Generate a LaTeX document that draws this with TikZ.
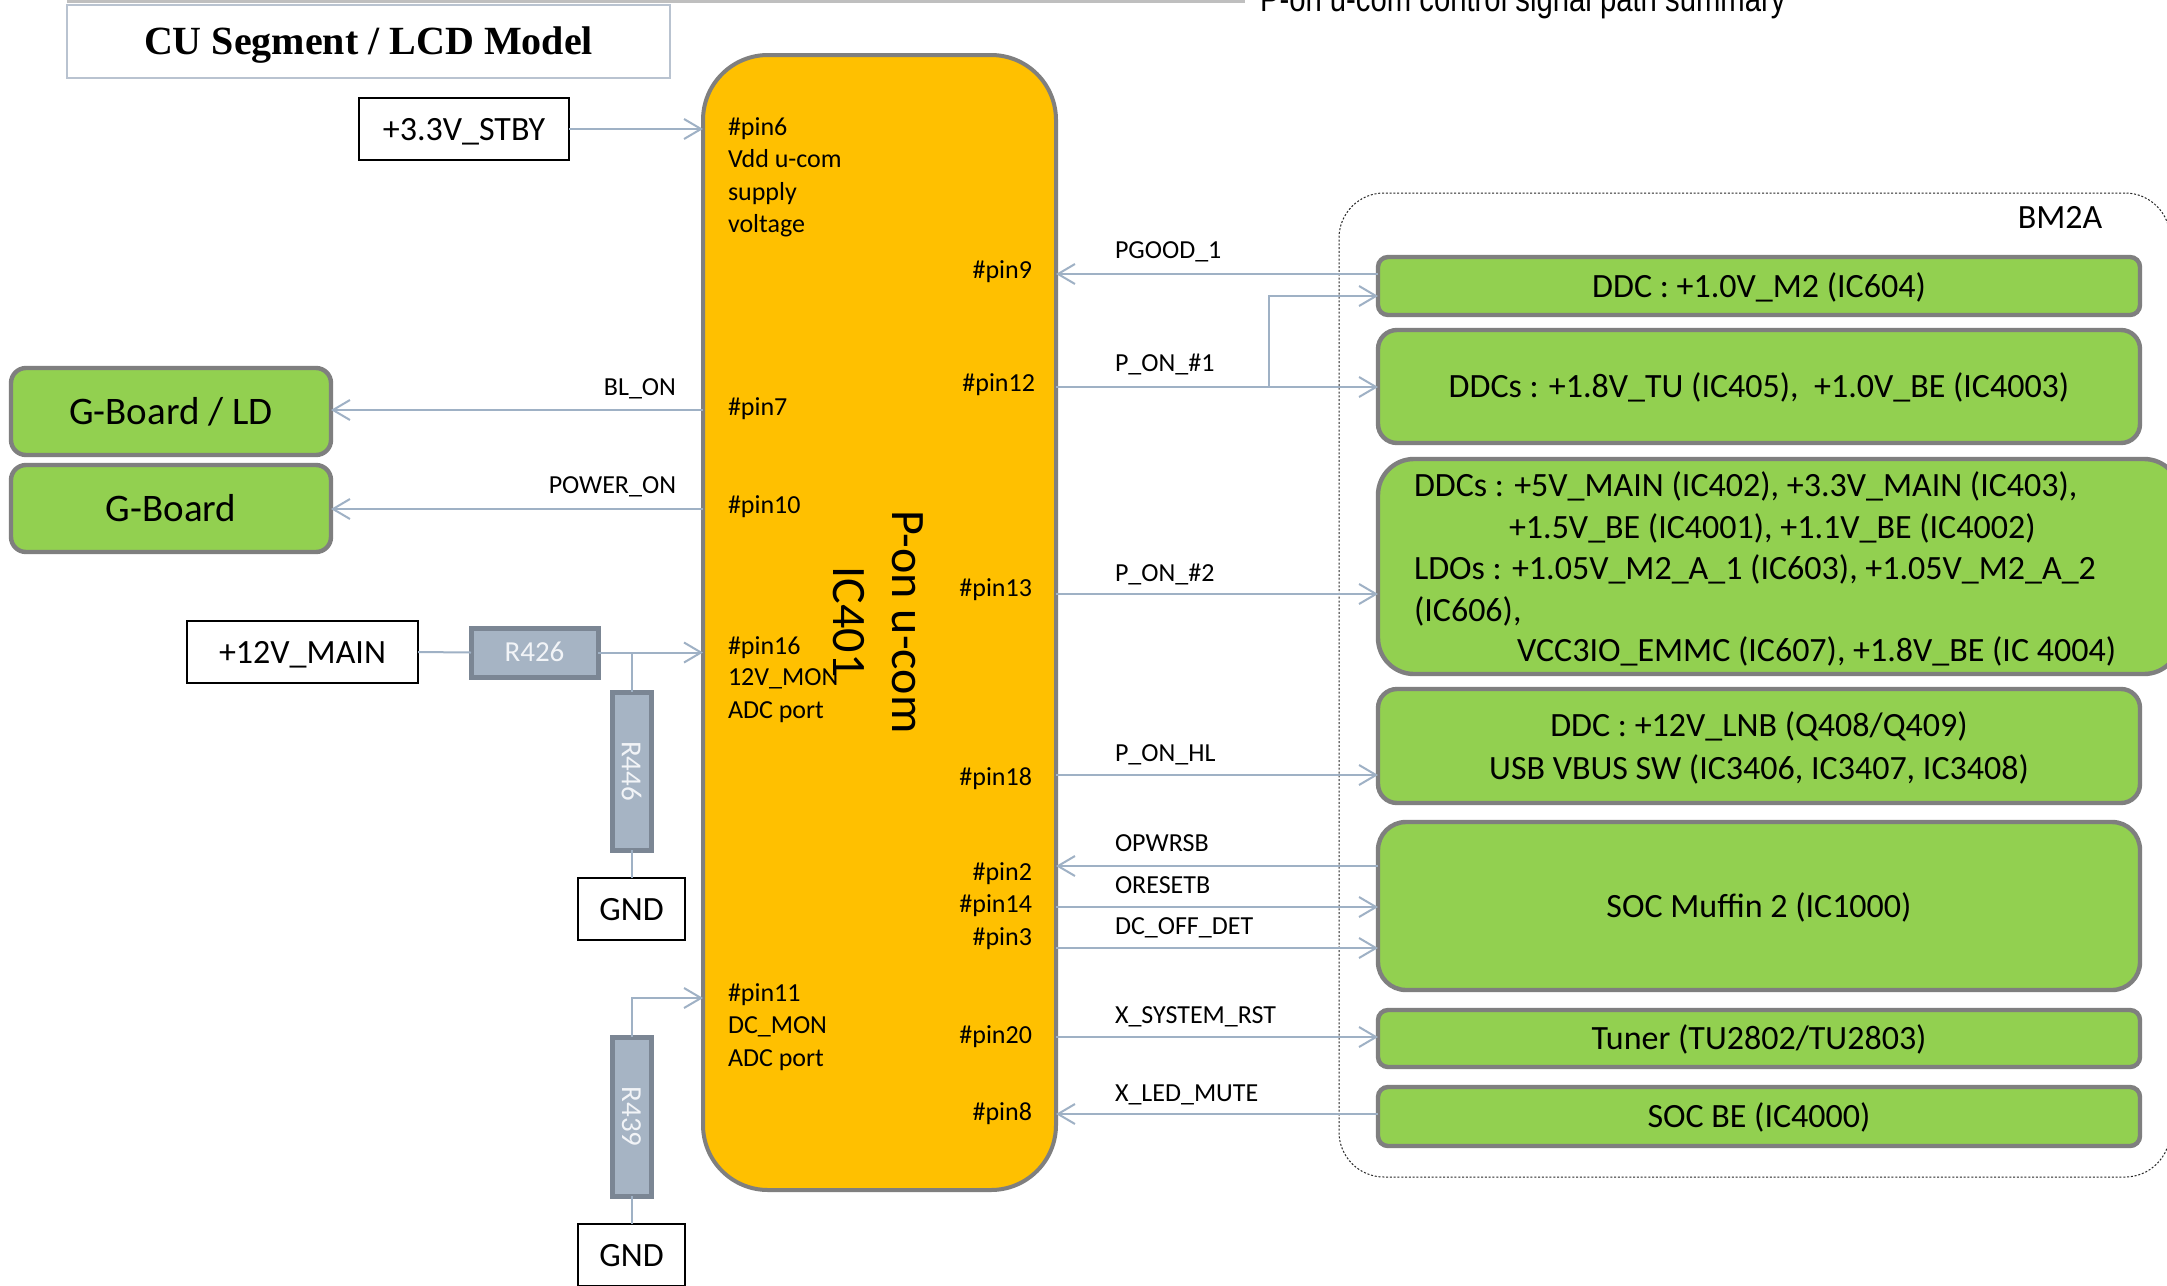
\documentclass[tikz,border=0pt]{standalone}
\usepackage{fontspec}
\setmainfont{Carlito}
\newfontfamily\titlefont{Liberation Serif}
\newfontfamily\narrowfont[FakeStretch=0.82]{Liberation Sans}
\usetikzlibrary{arrows.meta}
\definecolor{icyellow}{HTML}{FFC000}
\definecolor{boxgreen}{HTML}{92D050}
\definecolor{boxgray}{HTML}{7F7F7F}
\definecolor{wirecol}{HTML}{9FB1C5}
\definecolor{resfill}{HTML}{A6B4C4}
\definecolor{resedge}{HTML}{7B8694}
\definecolor{restext}{HTML}{F2F4F7}
\definecolor{titleedge}{HTML}{B9C3D0}
\definecolor{headline}{HTML}{BFBFBF}
\begin{document}
\begin{tikzpicture}[x=0.5pt,y=-0.5pt,
  every node/.style={inner sep=0pt, outer sep=0pt},
  lbl/.style={font=\fontsize{13}{15.6}\selectfont, text height=8.4pt, text depth=0pt},
  big/.style={font=\fontsize{17}{20}\selectfont, text height=11pt, text depth=0pt},
  gbox/.style={draw=boxgray, line width=2.2pt, fill=boxgreen, big},
  wbox/.style={draw=black, line width=1pt, fill=white, big, minimum height=31pt},
  res/.style={draw=resedge, line width=2.5pt, fill=resfill, text=restext,
    font=\fontsize{14.5}{16}\selectfont, text height=9.3pt, text depth=0pt},
  wire/.style={draw=wirecol, line width=1pt},
  sig/.style={wire, -{Straight Barb[length=8.5pt,width=10pt]}},
  cont/.style={draw=black!85, line width=0.5pt, dash pattern=on 1pt off 0.9pt, rounded corners=22.5pt}
]
\useasboundingbox (0,0) rectangle (2167,1285);
\fill[white] (0,0) rectangle (2167,1285);

% header
\draw[draw=headline, line width=1.5pt] (67,1) -- (1245,1);
\node[anchor=base west, font=\narrowfont\fontsize{17.85}{20}\selectfont] (hdr) at (1260,11) {P-on u-com control signal path summary};
\node[draw=titleedge, line width=0.8pt, minimum width=301.5pt, minimum height=36.5pt,
  font=\titlefont\bfseries\fontsize{20}{24}\selectfont, text height=13.2pt, text depth=0pt] (title) at (368.5,41.5) {CU Segment / LCD Model};

% BM2A container
\node[cont, minimum width=415.5pt, minimum height=492pt] (bm2a) at (1754.5,685) {};
\node[big] (bm2alabel) at (2060,217) {BM2A};

% IC401
\node[draw=boxgray, line width=2pt, fill=icyellow, rounded corners=32.5pt,
  minimum width=176.5pt, minimum height=567.5pt] (ic) at (879.5,622.5) {};
\node[rotate=-90, align=center, font=\fontsize{24}{29.5}\selectfont] (icname) at (878,622) {P-on u-com\\IC401};

% left pin labels
\node[lbl, anchor=west] (p6a) at (728,127) {\#pin6};
\node[lbl, anchor=west] (p6b) at (728,159) {Vdd u-com};
\node[lbl, anchor=west] (p6c) at (728,192) {supply};
\node[lbl, anchor=west] (p6d) at (728,224) {voltage};
\node[lbl, anchor=west] (p7) at (728,407) {\#pin7};
\node[lbl, anchor=west] (p10) at (728,505) {\#pin10};
\node[lbl, anchor=west] (p16a) at (728,646) {\#pin16};
\node[lbl, anchor=west] (p16b) at (728,677) {12V\_MON};
\node[lbl, anchor=west] (p16c) at (728,710) {ADC port};
\node[lbl, anchor=west] (p11a) at (728,993) {\#pin11};
\node[lbl, anchor=west] (p11b) at (728,1025) {DC\_MON};
\node[lbl, anchor=west] (p11c) at (728,1058) {ADC port};

% right pin labels
\node[lbl, anchor=east] (p9) at (1032,270) {\#pin9};
\node[lbl, anchor=east] (p12) at (1035,383) {\#pin12};
\node[lbl, anchor=east] (p13) at (1032,588) {\#pin13};
\node[lbl, anchor=east] (p18) at (1032,777) {\#pin18};
\node[lbl, anchor=east] (p2) at (1032,872) {\#pin2};
\node[lbl, anchor=east] (p14) at (1032,904) {\#pin14};
\node[lbl, anchor=east] (p3) at (1032,937) {\#pin3};
\node[lbl, anchor=east] (p20) at (1032,1035) {\#pin20};
\node[lbl, anchor=east] (p8) at (1032,1112) {\#pin8};

% signal labels
\node[lbl, anchor=west] (s1) at (1115,250) {PGOOD\_1};
\node[lbl, anchor=west] (s2) at (1115,363) {P\_ON\_\#1};
\node[lbl, anchor=west] (s3) at (1115,573) {P\_ON\_\#2};
\node[lbl, anchor=west] (s4) at (1115,753) {P\_ON\_HL};
\node[lbl, anchor=west] (s5) at (1115,843) {OPWRSB};
\node[lbl, anchor=west] (s6) at (1115,885) {ORESETB};
\node[lbl, anchor=west] (s7) at (1115,926) {DC\_OFF\_DET};
\node[lbl, anchor=west] (s8) at (1115,1015) {X\_SYSTEM\_RST};
\node[lbl, anchor=west] (s9) at (1115,1093) {X\_LED\_MUTE};
\node[lbl, anchor=east] (s10) at (676,387) {BL\_ON};
\node[lbl, anchor=east] (s11) at (676,485) {POWER\_ON};

% left blocks
\node[gbox, rounded corners=7.5pt, minimum width=160pt, minimum height=43.5pt,
  font=\fontsize{19.5}{22}\selectfont, text height=12.6pt] (gld) at (171,411.5) {G-Board / LD};
\node[gbox, rounded corners=7.5pt, minimum width=160pt, minimum height=43.5pt,
  font=\fontsize{19.5}{22}\selectfont, text height=12.6pt] (gb) at (171,508.5) {G-Board};
\node[wbox, minimum width=105pt] (stby) at (464,129) {+3.3V\_STBY};
\node[wbox, minimum width=115.5pt] (v12) at (302.5,652) {+12V\_MAIN};
\node[res, minimum width=63.5pt, minimum height=24.5pt] (r426) at (534.5,652.5) {R426};
\node[res, minimum width=19.5pt, minimum height=79pt] (r446) at (631.5,771) {};
\node[font=\fontsize{14.5}{16}\selectfont, text=restext, rotate=-90] (r446t) at (631.5,771) {R446};
\node[wbox, minimum width=53.5pt] (gnd1) at (631.5,909) {GND};
\node[res, minimum width=19.5pt, minimum height=79.5pt] (r439) at (631.5,1116.5) {};
\node[font=\fontsize{14.5}{16}\selectfont, text=restext, rotate=-90] (r439t) at (631.5,1116.5) {R439};
\node[wbox, minimum width=53.5pt] (gnd2) at (631.5,1255) {GND};

% right blocks
\node[gbox, rounded corners=5pt, minimum width=381pt, minimum height=29pt] (b1) at (1759,286) {DDC : +1.0V\_M2 (IC604)};
\node[gbox, rounded corners=9.5pt, minimum width=381pt, minimum height=56.5pt] (b2) at (1759,386.5) {DDCs : +1.8V\_TU (IC405), \ +1.0V\_BE (IC4003)};
\node[gbox, rounded corners=18pt, minimum width=401pt, minimum height=107.5pt] (b3) at (1779,566.5) {};
\node[big, anchor=west] (b3a) at (1414,485) {DDCs : +5V\_MAIN (IC402), +3.3V\_MAIN (IC403),};
\node[big, anchor=west] (b3b) at (1509,527) {+1.5V\_BE (IC4001), +1.1V\_BE (IC4002)};
\node[big, anchor=west] (b3c) at (1414,568) {LDOs : +1.05V\_M2\_A\_1 (IC603), +1.05V\_M2\_A\_2};
\node[big, anchor=west] (b3d) at (1414,610) {(IC606),};
\node[big, anchor=west] (b3e) at (1517,650) {VCC3IO\_EMMC (IC607), +1.8V\_BE (IC 4004)};
\node[gbox, rounded corners=9.5pt, minimum width=381pt, minimum height=57pt] (b4) at (1759,746) {};
\node[big] (b4a) at (1759,725) {DDC : +12V\_LNB (Q408/Q409)};
\node[big] (b4b) at (1759,768) {USB VBUS SW (IC3406, IC3407, IC3408)};
\node[gbox, rounded corners=14pt, minimum width=381pt, minimum height=84pt] (b5) at (1759,906) {SOC Muffin 2 (IC1000)};
\node[gbox, rounded corners=5pt, minimum width=381pt, minimum height=28.5pt] (b6) at (1759,1038.5) {Tuner (TU2802/TU2803)};
\node[gbox, rounded corners=5pt, minimum width=381pt, minimum height=29.5pt] (b7) at (1759,1116.5) {SOC BE (IC4000)};

% left connectors
\draw[sig] (stby.east) -- (stby.east -| ic.west);
\draw[sig] (ic.west |- 0,410) -- (gld.east |- 0,410);
\draw[sig] (ic.west |- 0,509) -- (gb.east |- 0,509);
\draw[wire] (v12.east) -- (r426.west);
\draw[sig] (r426.east) -- (r426.east -| ic.west);
\coordinate (j1) at (r446.north |- r426.east);
\draw[wire] (j1) -- (r446.north);
\draw[wire] (r446.south) -- (gnd1.north);
\coordinate (p11in) at (ic.west |- 0,998);
\draw[sig] (r439.north) |- (p11in);
\draw[wire] (r439.south) -- (gnd2.north);

% right connectors
\draw[sig] (b1.west |- 0,274) -- (ic.east |- 0,274);
\draw[sig] (ic.east |- 0,387) -- (b2.west |- 0,387);
\coordinate (br) at (1269,387);
\draw[sig] (br) |- (b1.west |- 0,296);
\draw[sig] (ic.east |- 0,594) -- (b3.west |- 0,594);
\draw[sig] (ic.east |- 0,775) -- (b4.west |- 0,775);
\draw[sig] (b5.west |- 0,866) -- (ic.east |- 0,866);
\draw[sig] (ic.east |- 0,907) -- (b5.west |- 0,907);
\draw[sig] (ic.east |- 0,948) -- (b5.west |- 0,948);
\draw[sig] (ic.east |- 0,1037) -- (b6.west |- 0,1037);
\draw[sig] (b7.west |- 0,1114) -- (ic.east |- 0,1114);
\end{tikzpicture}
\end{document}
